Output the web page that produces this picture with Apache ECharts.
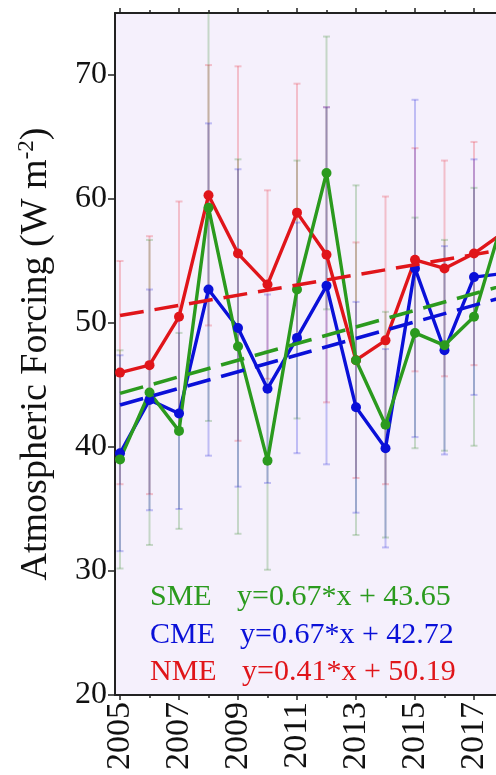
<!DOCTYPE html>
<html><head><meta charset="utf-8">
<script src="https://cdn.jsdelivr.net/npm/echarts@6/dist/echarts.min.js"></script>
<style>html,body{margin:0;padding:0;background:#fff}#c{width:496px;height:775px}</style>
</head><body><div id="c"></div>
<script>
// ---- data ----
const years = [2005, 2006, 2007, 2008, 2009, 2010, 2011, 2012, 2013, 2014, 2015, 2016, 2017, 2018];
const sme = [39.0, 44.4, 41.3, 59.3, 48.1, 38.9, 52.7, 62.1, 47.0, 41.8, 49.2, 48.2, 50.5, 58.5];
const cme = [39.5, 43.8, 42.7, 52.7, 49.6, 44.7, 48.8, 53.0, 43.2, 39.9, 54.4, 47.8, 53.7, 54.0];
const nme = [46.0, 46.6, 50.5, 60.3, 55.6, 53.1, 58.9, 55.5, 47.0, 48.6, 55.1, 54.4, 55.6, 57.3];
// half-length of the error bars (symmetric)
const smeErr = [8.8, 12.3, 7.9, 17.2, 15.1, 8.8, 10.4, 11.0, 14.1, 9.1, 9.3, 8.5, 10.4, null];
const cmeErr = [7.9, 8.9, 7.7, 13.4, 12.8, 7.6, 9.3, 14.4, 8.5, 8.0, 13.6, 8.4, 9.5, null];
const nmeErr = [9.0, 10.4, 9.3, 10.5, 15.1, 7.6, 10.4, 11.9, 9.5, 11.6, 9.0, 8.7, 9.0, null];
// dashed trend lines: end points
const trendYears = [2005, 2020];
const smeTrend = [44.32, 54.37];
const cmeTrend = [43.39, 53.44];
const nmeTrend = [50.60, 56.75];
// tick labels
const xMajorTicks = [2005, 2007, 2009, 2011, 2013, 2015, 2017, 2019, 2021];
const xMinorTicks = [2006, 2008, 2010, 2012, 2014, 2016, 2018, 2020];
const yTicks = [20, 30, 40, 50, 60, 70];
const names = ['SME', 'CME', 'NME'];
const equations = ['y=0.67*x + 43.65', 'y=0.67*x + 42.72', 'y=0.41*x + 50.19'];

const GREEN = '#2b9a1e', BLUE = '#0a10d8', RED = '#e0151a';
const SERIF = '"Liberation Serif", "Times New Roman", serif';
const X_MIN = 2004.83, X_MAX = 2021.17;

function pairs(xs, ys) { return xs.map((x, i) => [x, ys[i]]); }

function errBars(vals, errs, color) {
  const data = [];
  years.forEach((y, i) => { if (errs[i] != null) data.push([y, vals[i] - errs[i], vals[i] + errs[i]]); });
  return {
    type: 'custom', xAxisIndex: 0, yAxisIndex: 0, clip: true, z: 1, silent: true,
    data,
    encode: { x: 0, y: [1, 2] },
    renderItem(params, api) {
      const x = api.value(0), lo = api.value(1), hi = api.value(2);
      const p1 = api.coord([x, lo]), p2 = api.coord([x, hi]);
      const w = 3.5;
      const style = { stroke: color, lineWidth: 2, fill: null };
      return { type: 'group', children: [
        { type: 'line', shape: { x1: p1[0], y1: p1[1], x2: p2[0], y2: p2[1] }, style },
        { type: 'line', shape: { x1: p1[0] - w, y1: p1[1], x2: p1[0] + w, y2: p1[1] }, style },
        { type: 'line', shape: { x1: p2[0] - w, y1: p2[1], x2: p2[0] + w, y2: p2[1] }, style }
      ]};
    }
  };
}

function dataLine(vals, color, z) {
  return {
    type: 'line', xAxisIndex: 0, yAxisIndex: 0, data: pairs(years, vals), z,
    symbol: 'circle', symbolSize: 10, showSymbol: true,
    itemStyle: { color }, lineStyle: { color, width: 3.4 }, silent: true, animation: false
  };
}
function trendLine(vals, color) {
  return {
    type: 'line', xAxisIndex: 0, yAxisIndex: 0, data: pairs(trendYears, vals), z: 5,
    symbol: 'none', lineStyle: { color, width: 3.5, type: [24, 11] }, silent: true, animation: false
  };
}

const axisLineStyle = { show: true, lineStyle: { color: '#222', width: 2 } };
const gridBase = { left: 115, top: 13, bottom: 80, right: 496 - 115 - Math.round((X_MAX - X_MIN) * 29.5), containLabel: false, outerBoundsMode: 'none' };

const option = {
  animation: false,
  backgroundColor: '#ffffff',
  grid: [
    Object.assign({ show: true, backgroundColor: '#f5f0fc', borderWidth: 0 }, gridBase),
    Object.assign({ show: false }, gridBase)
  ],
  xAxis: [
    { type: 'value', gridIndex: 0, position: 'bottom', min: X_MIN, max: X_MAX,
      axisLine: axisLineStyle, splitLine: { show: false },
      axisTick: { show: true, length: 5, customValues: xMajorTicks, lineStyle: { color: '#222', width: 1.5 } },
      axisLabel: { show: true, rotate: 90, customValues: xMajorTicks, margin: 7, fontSize: 34, fontFamily: SERIF, color: '#111',
        formatter: v => String(Math.round(v)) } },
    { type: 'value', gridIndex: 0, position: 'top', min: X_MIN, max: X_MAX,
      axisLine: axisLineStyle, splitLine: { show: false },
      axisTick: { show: true, length: 5, customValues: xMajorTicks, lineStyle: { color: '#222', width: 1.5 } },
      axisLabel: { show: false } },
    { type: 'value', gridIndex: 1, position: 'bottom', min: X_MIN, max: X_MAX,
      axisLine: { show: false }, splitLine: { show: false },
      axisTick: { show: true, length: 3, customValues: xMinorTicks, lineStyle: { color: '#222', width: 1.5 } },
      axisLabel: { show: false } },
    { type: 'value', gridIndex: 1, position: 'top', min: X_MIN, max: X_MAX,
      axisLine: { show: false }, splitLine: { show: false },
      axisTick: { show: true, length: 3, customValues: xMinorTicks, lineStyle: { color: '#222', width: 1.5 } },
      axisLabel: { show: false } }
  ],
  yAxis: [
    { type: 'value', gridIndex: 0, position: 'left', min: 20, max: 75,
      axisLine: axisLineStyle, splitLine: { show: false },
      axisTick: { show: true, length: 7, customValues: yTicks, lineStyle: { color: '#222', width: 1.5 } },
      axisLabel: { show: true, customValues: yTicks, margin: 8, fontSize: 32, fontFamily: SERIF, color: '#111' },
      name: '{t|Atmospheric Forcing (W m}{s|-2}{t|)}',
      nameLocation: 'middle', nameGap: 58, nameRotate: 90,
      nameTextStyle: {
        rich: {
          t: { fontSize: 38, fontFamily: SERIF, color: '#111', lineHeight: 42 },
          s: { fontSize: 23, fontFamily: SERIF, color: '#111', verticalAlign: 'top', lineHeight: 42 }
        }
      } },
    { type: 'value', gridIndex: 1, min: 20, max: 75, show: false }
  ],
  series: [
    errBars(nme, nmeErr, 'rgba(235,60,75,0.28)'),
    errBars(sme, smeErr, 'rgba(60,140,50,0.26)'),
    errBars(cme, cmeErr, 'rgba(40,40,220,0.26)'),
    dataLine(nme, RED, 3),
    dataLine(cme, BLUE, 3),
    dataLine(sme, GREEN, 3),
    trendLine(nmeTrend, RED),
    trendLine(smeTrend, GREEN),
    trendLine(cmeTrend, BLUE)
  ],
  graphic: [
    { type: 'text', x: 150, y: 597, z: 10, style: { text: names[0], font: '30px ' + SERIF, fill: GREEN, verticalAlign: 'middle' } },
    { type: 'text', x: 237, y: 597, z: 10, style: { text: equations[0], font: '30px ' + SERIF, fill: GREEN, verticalAlign: 'middle' } },
    { type: 'text', x: 150, y: 635, z: 10, style: { text: names[1], font: '30px ' + SERIF, fill: BLUE, verticalAlign: 'middle' } },
    { type: 'text', x: 240, y: 635, z: 10, style: { text: equations[1], font: '30px ' + SERIF, fill: BLUE, verticalAlign: 'middle' } },
    { type: 'text', x: 150, y: 672, z: 10, style: { text: names[2], font: '30px ' + SERIF, fill: RED, verticalAlign: 'middle' } },
    { type: 'text', x: 242, y: 672, z: 10, style: { text: equations[2], font: '30px ' + SERIF, fill: RED, verticalAlign: 'middle' } }
  ]
};

const chart = echarts.init(document.getElementById('c'), null, { renderer: 'canvas' });
chart.setOption(option);
</script>
</body></html>
